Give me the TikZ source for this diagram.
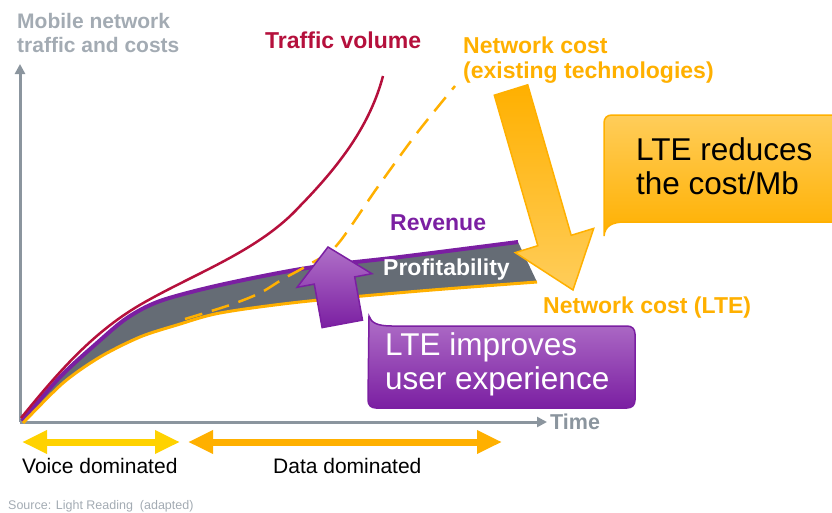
\documentclass[tikz,border=0pt]{standalone}
\usepackage{fontspec}
\setmainfont{Liberation Sans}
\usetikzlibrary{arrows.meta}
\definecolor{axisgray}{HTML}{8B959E}
\definecolor{labelgray}{HTML}{A3ABB3}
\definecolor{bandgray}{HTML}{656C75}
\definecolor{crimson}{HTML}{B5103C}
\definecolor{netorange}{HTML}{FFB000}
\definecolor{lightorange}{HTML}{FFCD5A}
\definecolor{lteyellow}{HTML}{FFD200}
\definecolor{revpurple}{HTML}{7B1FA2}
\definecolor{lightpurple}{HTML}{B070C8}
\begin{document}
\begin{tikzpicture}[x=1pt, y=-1pt,
  lbl/.style={inner sep=0pt, anchor=base west, align=left},
  boldlbl/.style={lbl, font=\fontsize{23}{25}\selectfont\bfseries},
  biglbl/.style={lbl, font=\fontsize{31.5}{34}\selectfont},
  axis/.style={draw=axisgray, line width=3pt, -{Triangle[length=10pt,width=10pt]}},
  span/.style={line width=7pt, {Triangle[length=25pt,width=22pt]}-{Triangle[length=25pt,width=22pt]}}]
  \useasboundingbox (0,0) rectangle (832,512);

  % axes
  \coordinate (o) at (20,422);
  \coordinate (ytop) at (20,64);
  \coordinate (xend) at (547,422);
  \draw[axis] (o) -- (ytop);
  \draw[axis] (o) -- (xend);
  \node[boldlbl, text=labelgray, font=\fontsize{21}{24}\selectfont\bfseries] (ylab) at (17,52) {Mobile network\\traffic and costs};
  \node[boldlbl, text=axisgray, font=\fontsize{21.5}{24}\selectfont\bfseries] (time) at (550,429) {Time};

  % profitability band between revenue and LTE cost
  \fill[bandgray] plot[smooth] coordinates {(22,421) (60,377) (97,343) (127,318) (160,301) (220,285) (307,268) (400,257) (518,242)}
    -- (537,282)
    -- plot[smooth] coordinates {(537,282) (420,291) (300,302) (220,313) (177,325) (140,337) (100,357) (63,383) (23,423)} -- cycle;
  \draw[revpurple, line width=4pt] plot[smooth] coordinates {(22,421) (60,377) (97,343) (127,318) (160,301) (220,285) (307,268) (400,257) (518,242)};
  \draw[netorange, line width=3pt] plot[smooth] coordinates {(23,423) (63,383) (100,357) (140,337) (177,325) (220,313) (300,302) (420,291) (537,282)};
  \draw[crimson, line width=2.5pt] (21,418) .. controls (60,370) and (95,330) .. (145,302)
    .. controls (198,272) and (260,250) .. (300,206) .. controls (340,165) and (370,125) .. (383,76);
  \draw[netorange, line width=2.5pt, dash pattern=on 18pt off 10pt] plot[smooth] coordinates {(185,319) (230,305) (260,293) (283,279) (310,264) (337,245) (377,188) (417,133) (455,86)};

  \node[boldlbl, text=crimson] (traffic) at (265,48) {Traffic volume};
  \node[boldlbl, text=netorange] (oldcost) at (463,78) {Network cost\\(existing technologies)};
  \node[boldlbl, text=revpurple] (revenue) at (390,230) {Revenue};
  \node[boldlbl, text=white] (profit) at (383,275) {Profitability};
  \node[boldlbl, text=netorange] (ltecost) at (543,313) {Network cost (LTE)};

  % block arrows
  \shade[top color=lightpurple, bottom color=revpurple, draw=revpurple, line width=1.5pt, line join=miter]
    (328,247) -- (371.9,273.7) -- (354.7,276.9) -- (362.5,320.1) -- (322.1,327.6) -- (314.3,284.1) -- (297.1,287.3) -- cycle;
  \shade[top color=netorange, bottom color=lightorange, draw=netorange, line width=1.5pt, line join=miter]
    (494.3,95.2) -- (527.7,84.8) -- (571.2,235.3) -- (593.7,228.4) -- (573,290) -- (515.3,252.6) -- (537.8,245.7) -- cycle;

  % callouts
  \shade[top color=lightorange, bottom color=netorange, draw=netorange, line width=1.5pt]
    (604,236) -- (604,123) .. controls (604,118) and (607,115) .. (612,115) -- (850,115) -- (850,222)
    -- (625,222) .. controls (612,222) and (605,226) .. (604,236) -- cycle;
  \node[biglbl] (reduces) at (636,194) {LTE reduces\\the cost/Mb};
  \shade[top color=lightpurple, bottom color=revpurple, draw=revpurple, line width=1.5pt]
    (369,316) .. controls (371,323) and (378,326) .. (392,326) -- (627,326) .. controls (632,326) and (635,329) .. (635,334)
    -- (635,400) .. controls (635,405) and (632,408) .. (627,408) -- (376,408) .. controls (371,408) and (368,405) .. (368,400) -- cycle;
  \node[biglbl, text=white] (improves) at (385,389) {LTE improves\\user experience};

  % periods
  \coordinate (v1) at (22,442);
  \coordinate (v2) at (180,442);
  \coordinate (d1) at (188,442);
  \coordinate (d2) at (502,442);
  \draw[span, lteyellow] (v1) -- (v2);
  \draw[span, netorange] (d1) -- (d2);
  \node[lbl, font=\fontsize{21}{24}\selectfont] (voice) at (22,473) {Voice dominated};
  \node[lbl, font=\fontsize{21}{24}\selectfont] (data) at (273,473) {Data dominated};
  \node[lbl, text=labelgray, font=\fontsize{12.5}{14}\selectfont] (source) at (8,509) {Source: Light Reading \ (adapted)};
\end{tikzpicture}
\end{document}
